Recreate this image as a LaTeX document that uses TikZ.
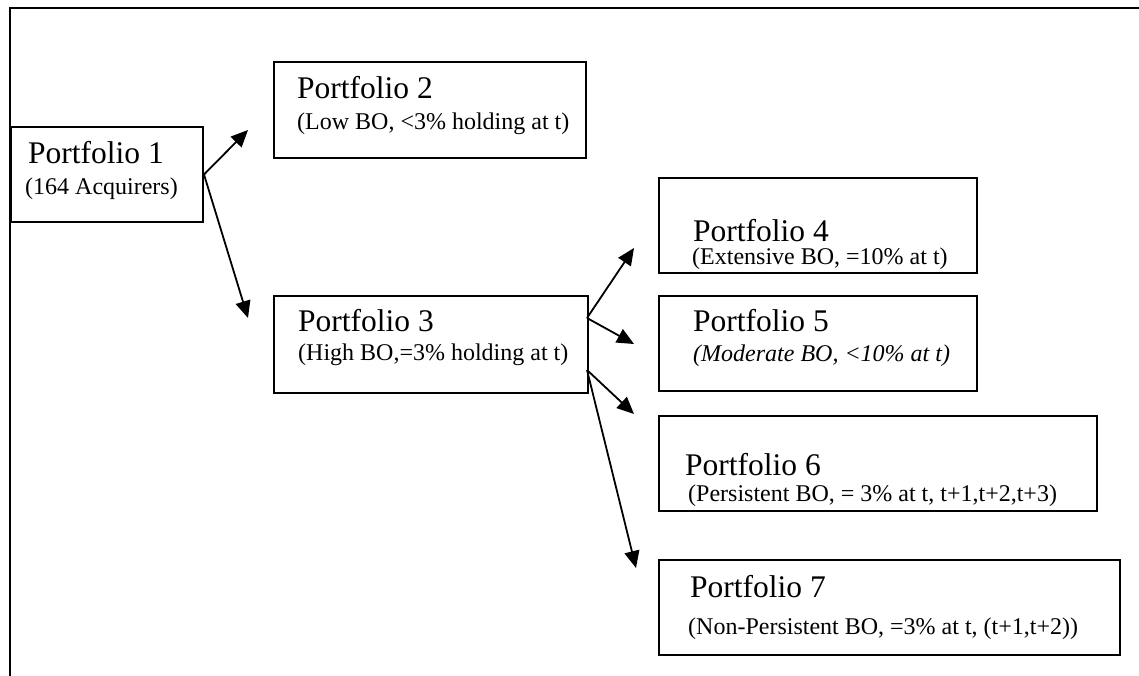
\documentclass[tikz,border=0pt]{standalone}
\usepackage{fontspec}
\setmainfont{Liberation Serif}
\usetikzlibrary{arrows.meta}
\begin{document}
\begin{tikzpicture}[x=1pt,y=-1pt,
  box/.style={draw=black,line width=2pt,inner sep=0pt,anchor=north west},
  ttl/.style={anchor=base west,inner sep=0pt,font=\fontsize{31.5}{36}\selectfont},
  sub/.style={anchor=base west,inner sep=0pt,font=\fontsize{24}{28}\selectfont},
  arr/.style={line width=1.8pt,-{Triangle[length=17pt,width=15pt]}}]
\useasboundingbox (0,0) rectangle (1139,676);
% outer frame
\draw[line width=2.6pt] (10,676) -- (10,8) -- (1139,8);
% boxes
\node[box,minimum width=192pt,minimum height=95pt] (p1) at (10,126) {};
\node[box,minimum width=312pt,minimum height=96pt] (p2) at (273,61) {};
\node[box,minimum width=314pt,minimum height=97pt] (p3) at (273,295) {};
\node[box,minimum width=318pt,minimum height=95pt] (p4) at (658,177) {};
\node[box,minimum width=318pt,minimum height=95pt] (p5) at (658,295) {};
\node[box,minimum width=438pt,minimum height=95pt] (p6) at (658,415) {};
\node[box,minimum width=461pt,minimum height=95pt] (p7) at (658,559) {};
% texts
\node[ttl] (t1) at (28,164) {Portfolio 1};
\node[sub] (s1) at (25,195) {(164 Acquirers)};
\node[ttl] (t2) at (297,99) {Portfolio 2};
\node[sub] (s2) at (297,130) {(Low BO, <3\% holding at t)};
\node[ttl] (t3) at (298,331) {Portfolio 3};
\node[sub] (s3) at (298,360) {(High BO,=3\% holding at t)};
\node[ttl] (t4) at (693,241) {Portfolio 4};
\node[sub] (s4) at (692,264) {(Extensive BO, =10\% at t)};
\node[ttl] (t5) at (693,331) {Portfolio 5};
\node[sub] (s5) at (693,361) {\itshape (Moderate BO, <10\% at t)};
\node[ttl] (t6) at (685,475) {Portfolio 6};
\node[sub] (s6) at (688,501) {(Persistent BO, = 3\% at t, t+1,t+2,t+3)};
\node[ttl] (t7) at (690,597) {Portfolio 7};
\node[sub] (s7) at (688,634) {(Non-Persistent BO, =3\% at t, (t+1,t+2))};
% arrow ends
\coordinate (a3u) at (587,318);
\coordinate (a3d) at (587,370);
\coordinate (e2) at (248,130);
\coordinate (e3) at (248,318);
\coordinate (e4) at (634,248);
\coordinate (e5) at (634,344);
\coordinate (e6) at (634,414);
\coordinate (e7) at (636,568);
\draw[arr] (p1.east) -- (e2);
\draw[arr] (p1.east) -- (e3);
\draw[arr] (a3u) -- (e4);
\draw[arr] (a3u) -- (e5);
\draw[arr] (a3d) -- (e6);
\draw[arr] (a3d) -- (e7);
\end{tikzpicture}
\end{document}
